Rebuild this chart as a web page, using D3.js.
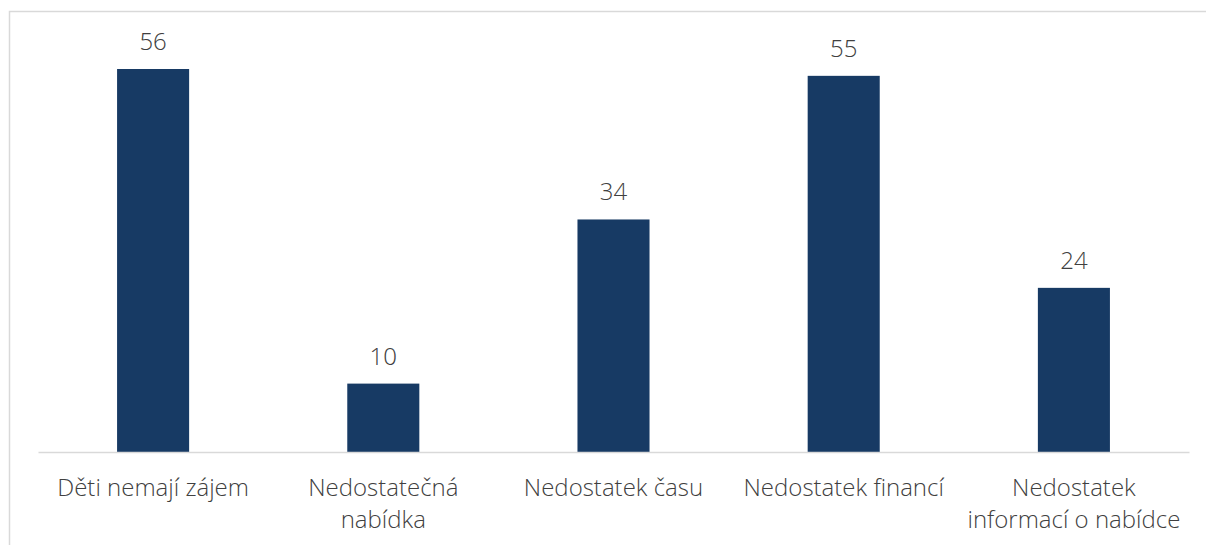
<!DOCTYPE html>
<html>
<head>
<meta charset="utf-8">
<script src="https://cdn.jsdelivr.net/npm/d3@7"></script>
<style>
  html, body { margin: 0; padding: 0; background: #fff; }
  svg { display: block; }
  text { font-family: 'Open Sans Light', 'Open Sans', sans-serif; font-weight: 300; fill: #404040; }
</style>
</head>
<body>
<div id="vis"></div>
<script>
// data
const categories = [
  ['Děti nemají zájem'],
  ['Nedostatečná', 'nabídka'],
  ['Nedostatek času'],
  ['Nedostatek financí'],
  ['Nedostatek', 'informací o nabídce']
]
const values = [56, 10, 34, 55, 24]

const width = 1206
const height = 545
const margin = { top: 69, right: 17, bottom: 93, left: 38 }
const chartWidth = width - margin.left - margin.right
const chartHeight = height - margin.top - margin.bottom

const svg = d3.select('#vis').append('svg')
  .attr('viewBox', [0, 0, width, height])
  .attr('width', width).attr('height', height)

// outer frame (runs off the right and bottom edge)
svg.append('rect')
  .attr('x', 9.5).attr('y', 11.5)
  .attr('width', width + 10).attr('height', height + 10)
  .attr('fill', 'none')
  .attr('stroke', '#d9d9d9')
  .attr('stroke-width', 1.5)

const x = d3.scaleBand()
  .domain(d3.range(categories.length))
  .range([0, chartWidth])
  .paddingInner(0.687)
  .paddingOuter(0.3435)

const y = d3.scaleLinear()
  .domain([0, 56])
  .range([chartHeight, 0])

const g = svg.append('g')
  .attr('transform', `translate(${margin.left},${margin.top})`)

g.selectAll('rect.bar')
  .data(values)
  .join('rect')
  .attr('class', 'bar')
  .attr('x', (d, i) => x(i))
  .attr('y', (d) => y(d))
  .attr('width', x.bandwidth())
  .attr('height', (d) => y(0) - y(d))
  .attr('fill', '#173a64')

g.selectAll('text.value')
  .data(values)
  .join('text')
  .attr('class', 'value')
  .attr('x', (d, i) => x(i) + x.bandwidth() / 2)
  .attr('y', (d) => y(d) - 19)
  .attr('text-anchor', 'middle')
  .attr('font-size', 24)
  .text((d) => d)

// axis
const xAxis = d3.axisBottom(x)
  .tickSize(0)
  .tickFormat('')

const axis = g.append('g')
  .attr('transform', `translate(0,${chartHeight})`)
  .call(xAxis)
axis.select('.domain')
  .attr('stroke', '#d9d9d9')
  .attr('stroke-width', 1.5)

const labels = g.selectAll('text.cat')
  .data(categories)
  .join('text')
  .attr('class', 'cat')
  .attr('text-anchor', 'middle')
  .attr('font-size', 24)
  .attr('transform', (d, i) => `translate(${x(i) + x.bandwidth() / 2},${chartHeight + 44})`)

labels.selectAll('tspan')
  .data((d) => d)
  .join('tspan')
  .attr('x', 0)
  .attr('y', (d, i) => i * 32)
  .text((d) => d)
</script>
</body>
</html>
